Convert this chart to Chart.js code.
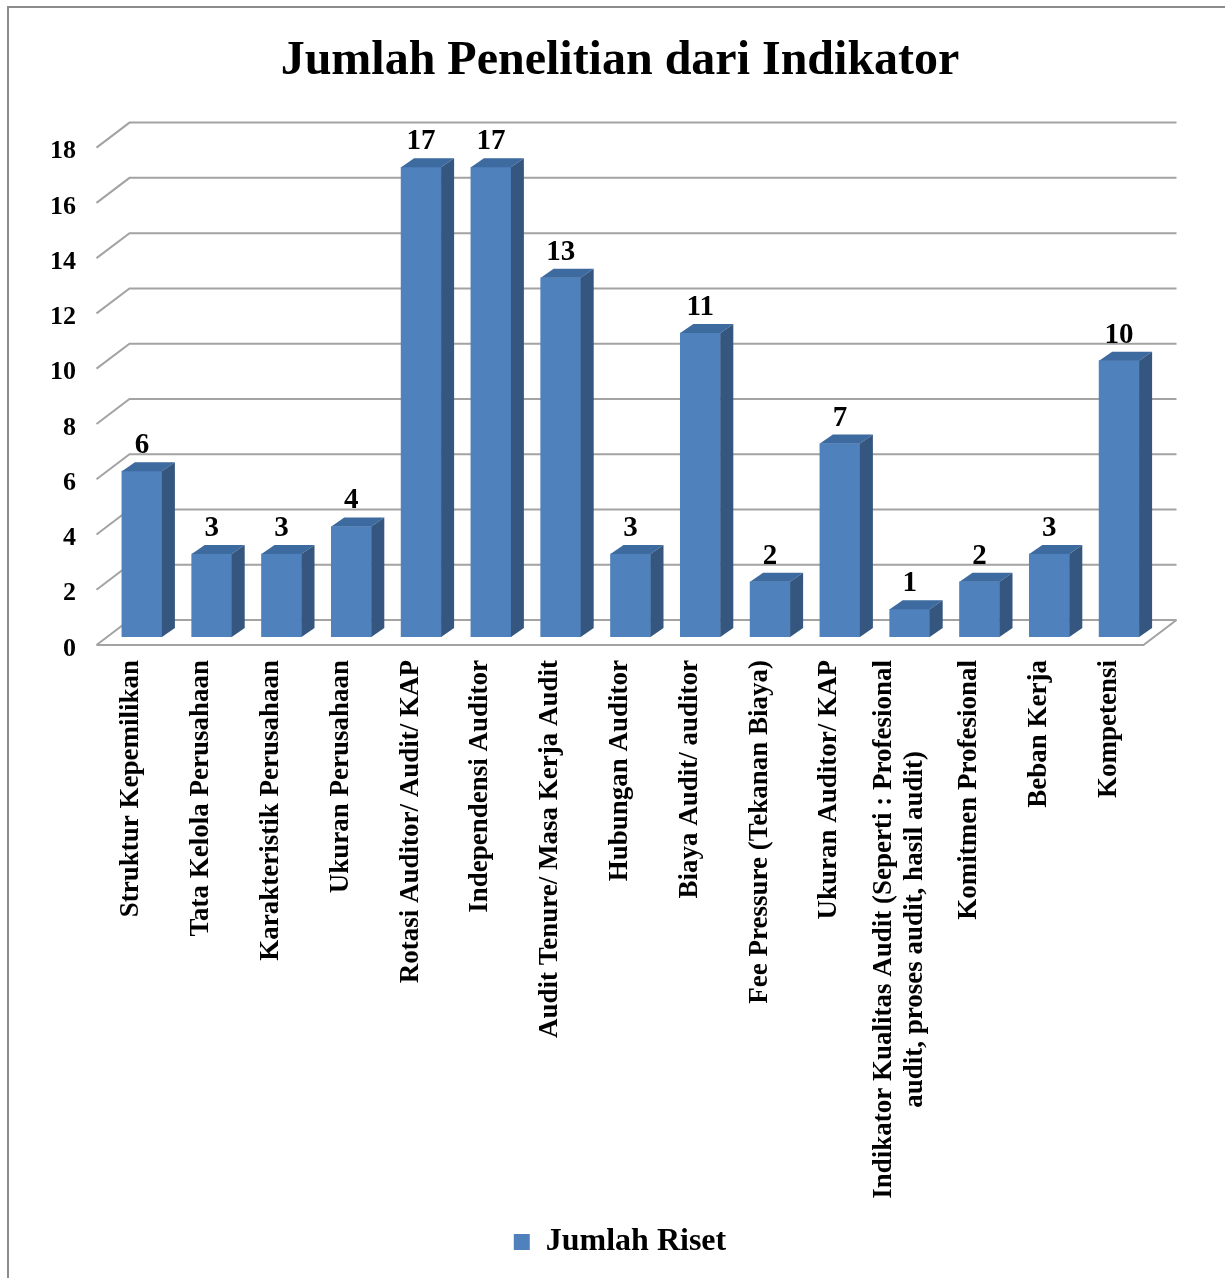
<!DOCTYPE html>
<html lang="id">
<head>
<meta charset="UTF-8">
<title>Jumlah Penelitian dari Indikator</title>
<script src="https://cdn.jsdelivr.net/npm/chart.js"></script>
<style>
    html, body { margin: 0; padding: 0; background: #fff; overflow: hidden; }
    .frame {
        position: absolute; left: 7px; top: 6px;
        width: 1400px; height: 1400px;
        border: 2px solid #8c8c8c;
    }
    .wrap { position: absolute; left: 0; top: 0; width: 1225px; height: 1278px; }
</style>
</head>
<body>
<div class="frame"></div>
<div class="wrap"><canvas id="chart"></canvas></div>
<script>
    const categories = [
        'Struktur Kepemilikan',
        'Tata Kelola Perusahaan',
        'Karakteristik Perusahaan',
        'Ukuran Perusahaan',
        'Rotasi Auditor/ Audit/ KAP',
        'Independensi Auditor',
        'Audit Tenure/ Masa Kerja Audit',
        'Hubungan Auditor',
        'Biaya Audit/ auditor',
        'Fee Pressure (Tekanan Biaya)',
        'Ukuran Auditor/ KAP',
        ['Indikator Kualitas Audit (Seperti : Profesional', 'audit, proses audit, hasil audit)'],
        'Komitmen Profesional',
        'Beban Kerja',
        'Kompetensi'
    ];
    const jumlahRiset = [6, 3, 3, 4, 17, 17, 13, 3, 11, 2, 7, 1, 2, 3, 10];
    const yMin = 0, yMax = 18, yStep = 2;

    const FONT = "'Liberation Serif', 'Times New Roman', serif";
    // pseudo 3D offsets, relative to the plane the bars stand in
    const BACK = { dx: 22.5, dy: -17 };
    const FRONT = { dx: -10.5, dy: 8 };
    const DEPTH = { dx: 13, dy: -9 };
    const LABEL_TOP = 660;
    const LINE_H = 31;

    const walls = {
        id: 'walls',
        beforeDatasetsDraw(chart) {
            const { ctx, chartArea: a, scales: { y } } = chart;
            ctx.save();
            ctx.strokeStyle = '#a3a3a3';
            ctx.lineWidth = 2;
            for (let v = yMin; v <= yMax; v += yStep) {
                const py = y.getPixelForValue(v);
                ctx.beginPath();
                ctx.moveTo(a.left + FRONT.dx, py + FRONT.dy);
                ctx.lineTo(a.left + BACK.dx, py + BACK.dy);
                ctx.lineTo(a.right + BACK.dx, py + BACK.dy);
                ctx.stroke();
            }
            // front edge of the floor
            const p0 = y.getPixelForValue(yMin);
            ctx.beginPath();
            ctx.moveTo(a.left + FRONT.dx, p0 + FRONT.dy);
            ctx.lineTo(a.right + FRONT.dx, p0 + FRONT.dy);
            ctx.lineTo(a.right + BACK.dx, p0 + BACK.dy);
            ctx.stroke();
            ctx.restore();
        }
    };

    const bars3d = {
        id: 'bars3d',
        afterDatasetsDraw(chart) {
            const { ctx } = chart;
            const meta = chart.getDatasetMeta(0);
            ctx.save();
            meta.data.forEach((bar, i) => {
                const { x, y, base, width } = bar.getProps(['x', 'y', 'base', 'width'], true);
                const l = x - width / 2, r = x + width / 2;
                ctx.fillStyle = '#3d6a9f';
                ctx.beginPath();
                ctx.moveTo(l, y);
                ctx.lineTo(l + DEPTH.dx, y + DEPTH.dy);
                ctx.lineTo(r + DEPTH.dx, y + DEPTH.dy);
                ctx.lineTo(r, y);
                ctx.closePath();
                ctx.fill();
                ctx.fillStyle = '#34567f';
                ctx.beginPath();
                ctx.moveTo(r, y);
                ctx.lineTo(r + DEPTH.dx, y + DEPTH.dy);
                ctx.lineTo(r + DEPTH.dx, base + DEPTH.dy);
                ctx.lineTo(r, base);
                ctx.closePath();
                ctx.fill();

                ctx.fillStyle = '#000';
                ctx.font = `bold 29px ${FONT}`;
                ctx.textAlign = 'center';
                ctx.textBaseline = 'alphabetic';
                ctx.fillText(jumlahRiset[i], x, y - 18);
            });
            ctx.restore();
        }
    };

    // vertical category labels, multi-line ones centred on the longest line
    const xLabels = {
        id: 'xLabels',
        afterDraw(chart) {
            const { ctx, scales: { x } } = chart;
            ctx.save();
            ctx.font = `bold 27px ${FONT}`;
            ctx.fillStyle = '#000';
            ctx.textBaseline = 'middle';
            ctx.textAlign = 'center';
            categories.forEach((c, i) => {
                const lines = Array.isArray(c) ? c : [c];
                const cx = x.getPixelForTick(i) + FRONT.dx;
                const maxW = Math.max(...lines.map(s => ctx.measureText(s).width));
                lines.forEach((s, j) => {
                    ctx.save();
                    ctx.translate(cx + (j - (lines.length - 1) / 2) * LINE_H, LABEL_TOP + maxW / 2);
                    ctx.rotate(-Math.PI / 2);
                    ctx.fillText(s, 0, 0);
                    ctx.restore();
                });
            });
            ctx.restore();
        }
    };

    new Chart(document.getElementById('chart'), {
        type: 'bar',
        data: {
            labels: categories,
            datasets: [{
                label: 'Jumlah Riset',
                data: jumlahRiset,
                backgroundColor: '#4f81bd',
                barThickness: 40
            }]
        },
        options: {
            responsive: true,
            maintainAspectRatio: false,
            animation: false,
            layout: { padding: { left: 86, right: 71, top: 0, bottom: 10 } },
            plugins: {
                title: {
                    display: true,
                    text: 'Jumlah Penelitian dari Indikator',
                    color: '#000',
                    font: { family: FONT, size: 48, weight: 'bold' },
                    padding: { top: 33, bottom: 49 }
                },
                legend: {
                    position: 'bottom',
                    labels: {
                        color: '#000',
                        font: { family: FONT, size: 32, weight: 'bold' },
                        boxWidth: 16,
                        boxHeight: 16,
                        padding: 10
                    }
                },
                tooltip: { enabled: false }
            },
            scales: {
                x: {
                    grid: { display: false },
                    border: { display: false },
                    ticks: { display: false },
                    afterFit: s => { s.height = 579; }
                },
                y: {
                    min: yMin,
                    max: yMax,
                    ticks: {
                        stepSize: yStep,
                        // mirrored so the labels are not clipped to the narrow axis box
                        mirror: true,
                        crossAlign: 'far',
                        padding: -57,
                        labelOffset: 12,
                        color: '#000',
                        font: { family: FONT, size: 26, weight: 'bold' }
                    },
                    grid: { display: false, drawTicks: false },
                    border: { display: false },
                    afterFit: s => { s.width = 21; }
                }
            }
        },
        plugins: [walls, bars3d, xLabels]
    });
</script>
</body>
</html>
